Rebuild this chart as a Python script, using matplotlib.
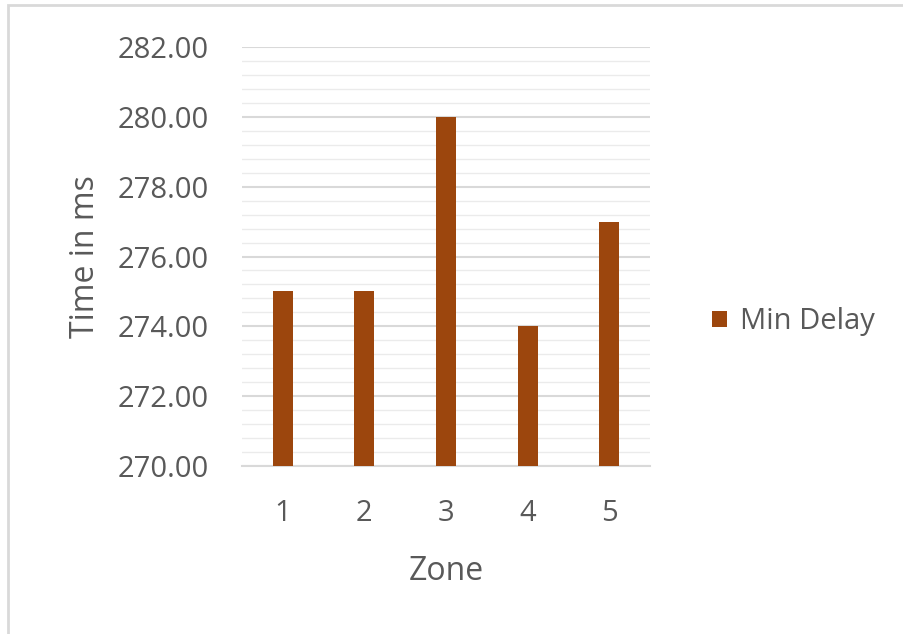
import matplotlib
matplotlib.use("Agg")
import matplotlib.pyplot as plt
from matplotlib.patches import Rectangle
from matplotlib.ticker import MultipleLocator, FormatStrFormatter

zones = ["1", "2", "3", "4", "5"]
min_delay = [275, 275, 280, 274, 277]
series_name = "Min Delay"

plt.rcParams['font.family'] = ['Open Sans', 'DejaVu Sans']
text_color = "#595959"
bar_color = "#9C460D"

fig = plt.figure(figsize=(9.04, 6.34), dpi=100)
fig.patches.append(Rectangle((8/904, -0.01), 1.0, 1 - 5/634 + 0.01, transform=fig.transFigure,
                             fill=False, edgecolor="#d9d9d9", linewidth=2))

ax = fig.add_axes([242/904, 1 - 466/634, 408/904, 419/634])
x = list(range(len(zones)))
ax.bar(x, min_delay, width=0.245, color=bar_color, label=series_name, zorder=3)
ax.set_ylim(270, 282)
ax.set_xlim(-0.5, len(zones) - 0.5)
ax.set_xticks(x)
ax.set_xticklabels(zones)
ax.yaxis.set_major_locator(MultipleLocator(2))
ax.yaxis.set_minor_locator(MultipleLocator(0.4))
ax.yaxis.set_major_formatter(FormatStrFormatter("%.2f"))
ax.grid(axis='y', which='major', color="#d9d9d9", linewidth=1.5, zorder=0)
ax.grid(axis='y', which='minor', color="#ebebeb", linewidth=1.0, zorder=0)
ax.set_axisbelow(True)
for s in ["top", "right", "left"]:
    ax.spines[s].set_visible(False)
ax.spines["bottom"].set_color("#d9d9d9")
ax.spines["bottom"].set_linewidth(1.5)
ax.tick_params(axis='both', which='both', length=0, labelsize=21, labelcolor=text_color)
ax.tick_params(axis='y', pad=24)
ax.tick_params(axis='x', pad=24)
ax.set_xlabel("Zone", fontsize=23, color=text_color, labelpad=19)
ax.set_ylabel("Time in ms", fontsize=23, color=text_color, labelpad=11)

leg = fig.legend(loc='center left', bbox_to_anchor=(686/904, 1 - 322/634), frameon=False,
                 fontsize=21, handlelength=0.5, handleheight=0.5, handletextpad=0.45,
                 labelcolor=text_color)

fig.savefig("out.png", dpi=100)
